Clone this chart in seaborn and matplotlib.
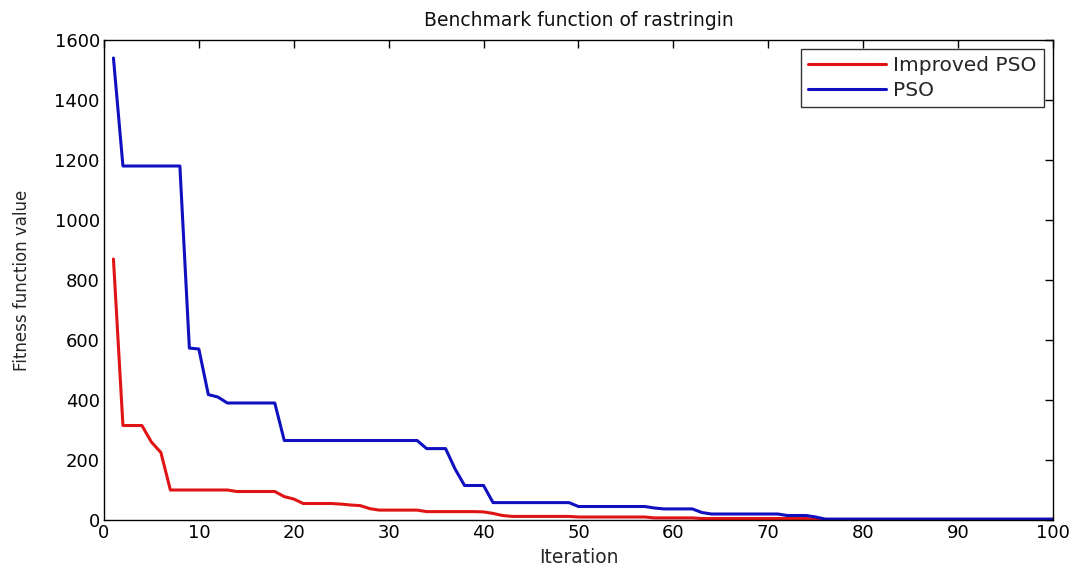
import matplotlib
matplotlib.use("Agg")
import matplotlib.pyplot as plt
import pandas as pd
import seaborn as sns

# ---- data ----
iterations = list(range(1, 101))

pso = [
    1540, 1180, 1180, 1180, 1180, 1180, 1180, 1180, 573, 570,
    418, 410, 390, 390, 390, 390, 390, 390, 265, 265,
    265, 265, 265, 265, 265, 265, 265, 265, 265, 265,
    265, 265, 265, 238, 238, 238, 170, 115, 115, 115,
    58, 58, 58, 58, 58, 58, 58, 58, 58, 45,
    45, 45, 45, 45, 45, 45, 45, 40, 37, 37,
    37, 37, 25, 20, 20, 20, 20, 20, 20, 20,
    20, 15, 15, 15, 10, 3, 3, 3, 3, 3,
    3, 3, 3, 3, 3, 3, 3, 3, 3, 3,
    3, 3, 3, 3, 3, 3, 3, 3, 3, 3,
]

improved_pso = [
    870, 315, 315, 315, 260, 225, 100, 100, 100, 100,
    100, 100, 100, 95, 95, 95, 95, 95, 78, 70,
    55, 55, 55, 55, 53, 50, 48, 38, 33, 33,
    33, 33, 33, 28, 28, 28, 28, 28, 28, 27,
    22, 15, 12, 12, 12, 12, 12, 12, 12, 10,
    10, 10, 10, 10, 10, 10, 10, 7, 7, 7,
    7, 7, 5, 5, 5, 5, 5, 5, 5, 5,
    5, 5, 5, 5, 2, 2, 2, 2, 2, 2,
    2, 2, 2, 2, 2, 2, 2, 2, 2, 2,
    2, 2, 2, 2, 2, 2, 2, 2, 2, 2,
]

series_names = ["Improved PSO", "PSO"]
palette = {"Improved PSO": "#e01414", "PSO": "#1010c0"}
x_ticks = list(range(0, 101, 10))
y_ticks = list(range(0, 1601, 200))

df = pd.concat([
    pd.DataFrame({"Iteration": iterations, "value": improved_pso, "method": "Improved PSO"}),
    pd.DataFrame({"Iteration": iterations, "value": pso, "method": "PSO"}),
], ignore_index=True)

sns.set_theme(style="white")
plt.rcParams["font.family"] = ["DejaVu Sans"]

fig = plt.figure(figsize=(10.75, 5.69), dpi=100)
ax = fig.add_axes([0.0967, 0.0861, 0.8828, 0.8436])

sns.lineplot(data=df, x="Iteration", y="value", hue="method", hue_order=series_names,
             palette=palette, linewidth=2.2, ax=ax)

ax.set_xlim(0, 100)
ax.set_ylim(0, 1600)
ax.set_xticks(x_ticks)
ax.set_yticks(y_ticks)
ax.tick_params(direction="in", length=6, width=1, colors="black",
               top=True, right=True, labelsize=13, pad=3)
for s in ax.spines.values():
    s.set_color("black")
    s.set_linewidth(1)
    s.set_visible(True)

ax.set_title("Benchmark function of rastringin", fontsize=13.5, pad=10, color="#111111")
ax.set_xlabel("Iteration", fontsize=13.5, labelpad=4)
ax.set_ylabel("Fitness function value", fontsize=12, labelpad=17)

leg = ax.legend(loc="upper right", fontsize=14.5, frameon=True, fancybox=False,
                handlelength=3.9, borderaxespad=0.45, borderpad=0.35,
                labelspacing=0.3, handletextpad=0.35)
leg.get_frame().set_edgecolor("black")
leg.get_frame().set_linewidth(1)
leg.set_title(None)

fig.savefig("out.png", dpi=100)
